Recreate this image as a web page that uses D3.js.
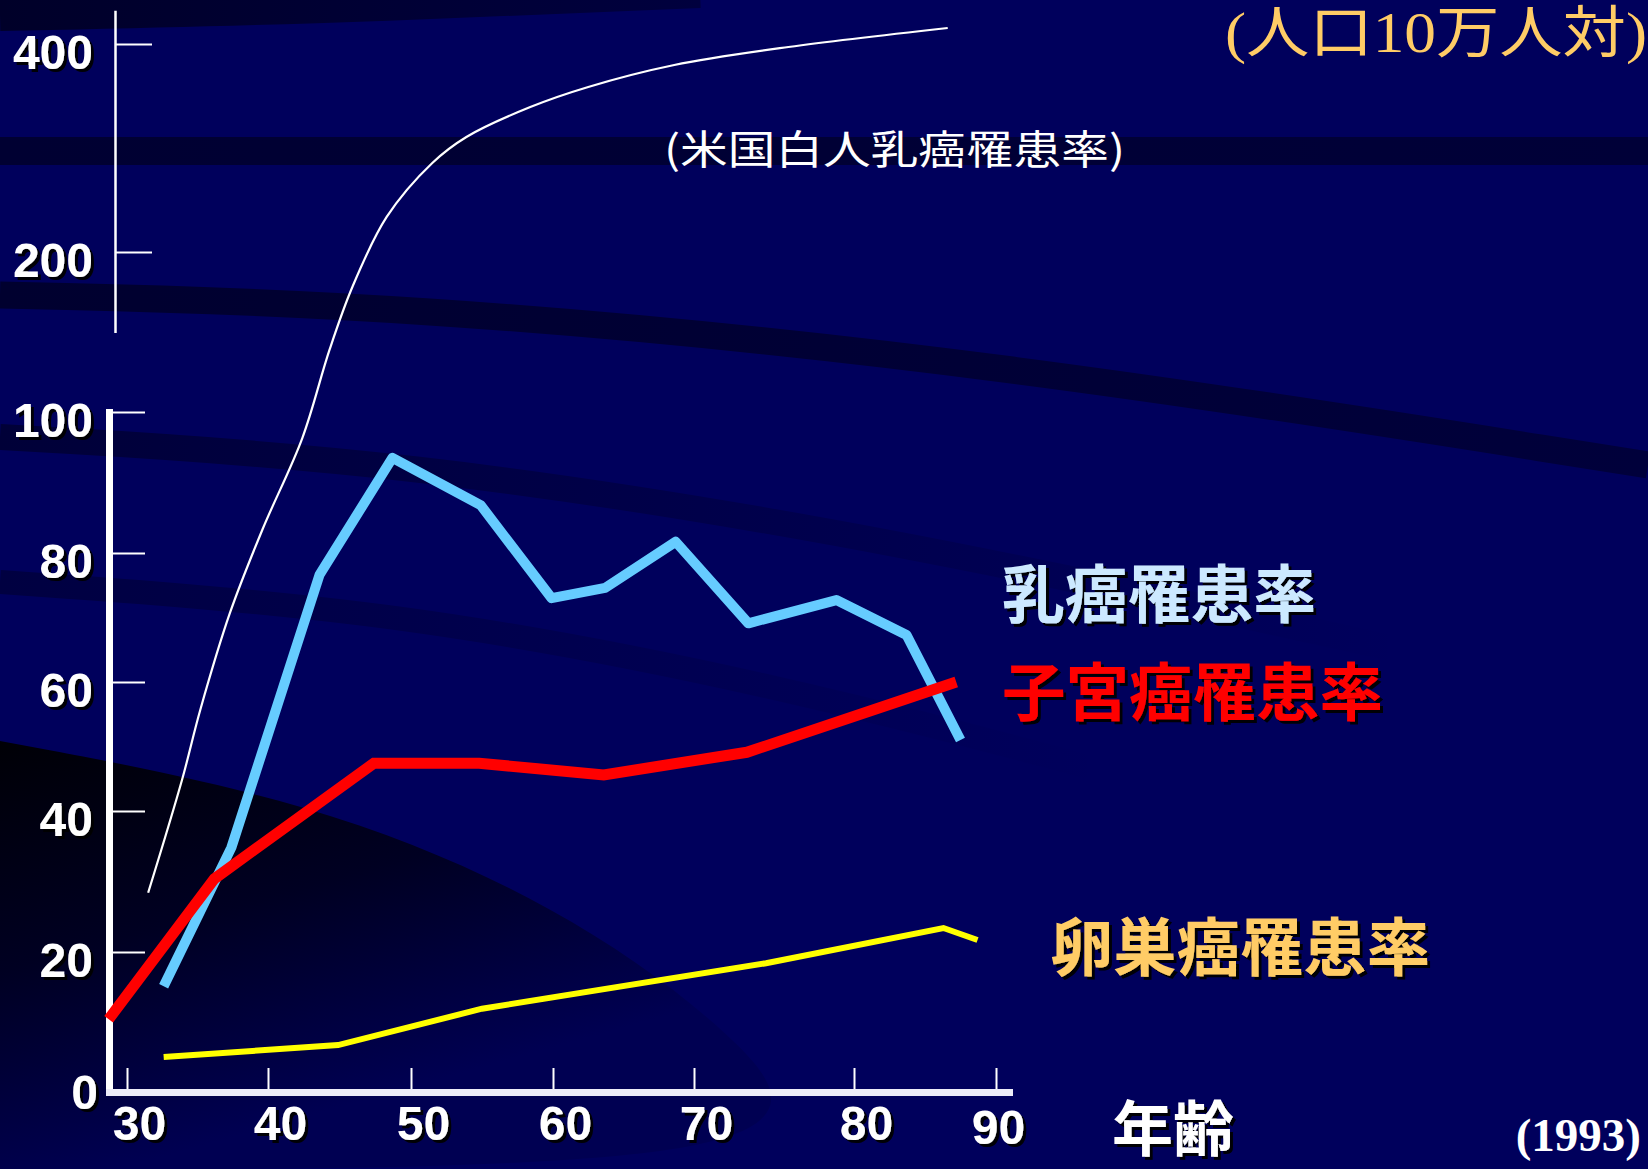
<!DOCTYPE html>
<html>
<head>
<meta charset="utf-8">
<script src="https://cdn.jsdelivr.net/npm/d3@7"></script>
<style>
  html, body { margin: 0; padding: 0; background: #00005c; overflow: hidden; }
  svg { display: block; }
</style>
</head>
<body>
<svg id="chart" width="1648" height="1169"></svg>
<script>
// ---------------- data ----------------
const ageTicks = [30, 40, 50, 60, 70, 80, 90];
const lowerTicks = [0, 20, 40, 60, 80, 100];
const upperTicks = [200, 400];
const upperAxisExtent = [122, 432];

// 乳癌罹患率 (Japan)
const breastAge  = [32.6, 37.4, 43.6, 48.7, 54.9, 59.9, 63.7, 68.7, 73.4, 78.9, 83.7, 87.5];
const breastRate = [15.1, 34.8, 76.6, 93.5, 86.8, 73.0, 74.6, 81.6, 69.1, 72.7, 67.3, 51.0];
// 子宮癌罹患率
const uterineAge  = [28.7, 36.2, 47.4, 54.8, 63.6, 73.3, 87.2];
const uterineRate = [10.4, 30.4, 47.4, 47.4, 45.6, 49.1, 60.0];
// 卵巣癌罹患率
const ovarianAge  = [32.6, 44.9, 55.0, 74.5, 86.3, 88.7];
const ovarianRate = [5.0, 6.7, 11.9, 18.4, 23.4, 21.7];
// 米国白人乳癌罹患率
const usWhiteAge  = [31.5, 33.9, 35.2, 37.3, 39.6, 42.4, 44.3, 45.9, 48.3, 51.5, 53.9, 58.4, 62.5, 68.6, 75.9, 86.6];
const usWhiteRate = [28.4, 44.8, 55.7, 70.7, 83.3, 96.3, 138.8, 178.1, 233.7, 285.6, 310.6, 339.4, 358.7, 379.8, 397.1, 415.4];

const labelBreast  = "乳癌罹患率";
const labelUterine = "子宮癌罹患率";
const labelOvarian = "卵巣癌罹患率";
const labelUS      = "(米国白人乳癌罹患率)";
const labelUnit    = "(人口10万人対)";
const labelXAxis   = "年齢";
const labelYear    = "(1993)";

// ---------------- setup ----------------
const W = 1648, H = 1169;
const svg = d3.select("#chart");
const defs = svg.append("defs");

const f = defs.append("filter").attr("id", "sh")
  .attr("x", "-10%").attr("y", "-10%").attr("width", "130%").attr("height", "130%");
f.append("feDropShadow").attr("dx", 3).attr("dy", 3).attr("stdDeviation", 0.6)
  .attr("flood-color", "#000").attr("flood-opacity", 0.95);

const gDark = defs.append("linearGradient").attr("id", "darkgrad")
  .attr("gradientUnits", "userSpaceOnUse")
  .attr("x1", 0).attr("y1", 741).attr("x2", 120).attr("y2", 1169);
gDark.append("stop").attr("offset", "0%").attr("stop-color", "#000006");
gDark.append("stop").attr("offset", "50%").attr("stop-color", "#000022");
gDark.append("stop").attr("offset", "100%").attr("stop-color", "#000052");

// band gradients fading to the right
function fadeGrad(id, x1, x2, color, o1, o2) {
  const g = defs.append("linearGradient").attr("id", id)
    .attr("gradientUnits", "userSpaceOnUse")
    .attr("x1", x1).attr("y1", 0).attr("x2", x2).attr("y2", 0);
  g.append("stop").attr("offset", "0%").attr("stop-color", color).attr("stop-opacity", o1);
  g.append("stop").attr("offset", "100%").attr("stop-color", color).attr("stop-opacity", o2);
}
fadeGrad("b1", 0, 700, "#000020", 0.85, 0.5);
fadeGrad("b2", 0, 1648, "#000020", 0.7, 0.6);
fadeGrad("b3", 0, 1648, "#000020", 0.75, 0.55);
fadeGrad("b4", 0, 1400, "#000020", 0.6, 0.0);
fadeGrad("b5", 0, 1100, "#000020", 0.45, 0.0);

// scales
const x = d3.scaleLinear().domain(ageTicks).range([127, 268, 411, 553, 694, 854, 996]);
const yLower = d3.scaleLinear().domain(lowerTicks).range([1092, 952, 811, 682, 553, 412]);
const yUpper = d3.scaleLinear().domain([200, 400]).range([252, 44]);
const yWhite = d3.scaleLinear()
  .domain(lowerTicks.concat(upperTicks))
  .range(lowerTicks.map(yLower).concat(upperTicks.map(yUpper)));

// ---------------- background ----------------
svg.append("rect").attr("width", W).attr("height", H).attr("fill", "#00005c");

const bandLine = d3.line().curve(d3.curveBasis);
const bands = [
  { pts: [[0, 15], [300, 9], [700, -8]], w: 32, c: "url(#b1)" },
  { pts: [[0, 151], [800, 151], [1648, 151]], w: 28, c: "url(#b2)" },
  { pts: [[0, 295], [400, 304], [1000, 362], [1648, 465]], w: 27, c: "url(#b3)" },
  { pts: [[0, 437], [400, 460], [900, 540], [1400, 650]], w: 26, c: "url(#b4)" },
  { pts: [[0, 582], [400, 610], [800, 690], [1100, 770]], w: 24, c: "url(#b5)" }
];
svg.append("g").selectAll("path").data(bands).join("path")
  .attr("d", d => bandLine(d.pts))
  .attr("fill", "none").attr("stroke", d => d.c).attr("stroke-width", d => d.w);

const darkArea = d3.line().curve(d3.curveBasis)([[0, 741], [315, 800], [560, 905], [740, 1035], [845, 1169], [0, 1169]]);
svg.append("path").attr("d", darkArea + "Z").attr("fill", "url(#darkgrad)");

// ---------------- axes ----------------
const tickFont = "'Liberation Sans', Arial, sans-serif";

// upper axis
svg.append("line")
  .attr("x1", 115.5).attr("x2", 115.5)
  .attr("y1", yUpper(upperAxisExtent[1])).attr("y2", yUpper(upperAxisExtent[0]))
  .attr("stroke", "#fff").attr("stroke-width", 2.5);
const gU = svg.append("g").attr("transform", "translate(116,0)")
  .call(d3.axisLeft(yUpper).tickValues(upperTicks).tickSize(-36).tickPadding(23).tickFormat(d3.format("d")));
gU.select(".domain").remove();

// lower y axis
svg.append("line")
  .attr("x1", 109.5).attr("x2", 109.5)
  .attr("y1", yLower(100) - 3).attr("y2", yLower(0) + 4)
  .attr("stroke", "#fff").attr("stroke-width", 7);
const gL = svg.append("g").attr("transform", "translate(113,0)")
  .call(d3.axisLeft(yLower).tickValues(lowerTicks).tickSize(-32).tickPadding(20).tickFormat(d3.format("d")));
gL.select(".domain").remove();

// x axis
svg.append("line")
  .attr("x1", 106).attr("x2", 1013)
  .attr("y1", yLower(0) + 0.5).attr("y2", yLower(0) + 0.5)
  .attr("stroke", "#ececf8").attr("stroke-width", 7);
const gX = svg.append("g").attr("transform", `translate(0,${yLower(0) - 3})`)
  .call(d3.axisBottom(x).tickValues(ageTicks).tickSize(-21).tickPadding(17).tickFormat(d3.format("d")));
gX.select(".domain").remove();

[gU, gL, gX].forEach(g => {
  g.selectAll(".tick line").attr("stroke", "#fff").attr("stroke-width", 2);
  g.selectAll(".tick text")
    .attr("fill", "#fff")
    .attr("font-family", tickFont)
    .attr("font-weight", "bold")
    .attr("font-size", 48)
    .attr("filter", "url(#sh)");
});
gU.selectAll(".tick text").attr("dy", "0.5em");
gL.selectAll(".tick text").attr("dy", "0.5em");
gL.selectAll(".tick text").filter(d => d === 0).attr("dx", 5).attr("dy", "0.35em");
gX.selectAll(".tick text").attr("dx", 12);
gX.selectAll(".tick text").filter(d => d === 90).attr("dx", 2).attr("dy", "0.8em");
gL.selectAll(".tick").filter(d => d === 0).select("line").remove();

// ---------------- lines ----------------
const zip = (a, b) => a.map((v, i) => [v, b[i]]);

const lineLower = d3.line().x(d => x(d[0])).y(d => yLower(d[1]));
const lineWhite = d3.line().x(d => x(d[0])).y(d => yWhite(d[1])).curve(d3.curveCatmullRom.alpha(0.5));

svg.append("path").datum(zip(usWhiteAge, usWhiteRate))
  .attr("d", lineWhite).attr("fill", "none")
  .attr("stroke", "#ffffff").attr("stroke-width", 2.2);

svg.append("path").datum(zip(ovarianAge, ovarianRate))
  .attr("d", lineLower).attr("fill", "none")
  .attr("stroke", "#ffff00").attr("stroke-width", 6).attr("stroke-linejoin", "miter");

svg.append("path").datum(zip(breastAge, breastRate))
  .attr("d", lineLower).attr("fill", "none")
  .attr("stroke", "#66ccff").attr("stroke-width", 10).attr("stroke-linejoin", "round");

svg.append("path").datum(zip(uterineAge, uterineRate))
  .attr("d", lineLower).attr("fill", "none")
  .attr("stroke", "#ff0000").attr("stroke-width", 11).attr("stroke-linejoin", "miter");

// ---------------- labels ----------------
const cjkBold = "'Noto Sans CJK JP', 'Noto Sans CJK SC', sans-serif";

svg.append("text").text(labelBreast)
  .attr("x", 1002).attr("y", 617)
  .attr("font-family", cjkBold).attr("font-weight", 700).attr("font-size", 63)
  .attr("textLength", 314).attr("lengthAdjust", "spacingAndGlyphs")
  .attr("fill", "#cce9ff").attr("filter", "url(#sh)");

svg.append("text").text(labelUterine)
  .attr("x", 1002).attr("y", 715)
  .attr("font-family", cjkBold).attr("font-weight", 700).attr("font-size", 63)
  .attr("textLength", 381).attr("lengthAdjust", "spacingAndGlyphs")
  .attr("fill", "#ff0000").attr("filter", "url(#sh)");

svg.append("text").text(labelOvarian)
  .attr("x", 1050).attr("y", 970)
  .attr("font-family", cjkBold).attr("font-weight", 700).attr("font-size", 63)
  .attr("textLength", 380).attr("lengthAdjust", "spacingAndGlyphs")
  .attr("fill", "#ffcc66").attr("filter", "url(#sh)");

svg.append("text").text(labelXAxis)
  .attr("x", 1112).attr("y", 1151)
  .attr("font-family", cjkBold).attr("font-weight", 700).attr("font-size", 60)
  .attr("textLength", 122).attr("lengthAdjust", "spacingAndGlyphs")
  .attr("fill", "#ffffff").attr("filter", "url(#sh)");

svg.append("text").text(labelYear)
  .attr("x", 1641).attr("y", 1151).attr("text-anchor", "end")
  .attr("font-family", "'Liberation Serif', 'Times New Roman', serif").attr("font-weight", 700)
  .attr("font-size", 47).attr("fill", "#ffffff");

svg.append("text").text(labelUS)
  .attr("x", 664).attr("y", 164)
  .attr("font-family", "'Noto Sans CJK JP', sans-serif").attr("font-weight", 400).attr("font-size", 40)
  .attr("textLength", 461).attr("lengthAdjust", "spacingAndGlyphs")
  .attr("fill", "#ffffff");

svg.append("text").text(labelUnit)
  .attr("x", 1225).attr("y", 52)
  .attr("font-family", "'Liberation Serif', 'Noto Sans CJK JP', serif").attr("font-weight", 400).attr("font-size", 56)
  .attr("textLength", 422).attr("lengthAdjust", "spacingAndGlyphs")
  .attr("fill", "#ffcc66");
</script>
</body>
</html>
